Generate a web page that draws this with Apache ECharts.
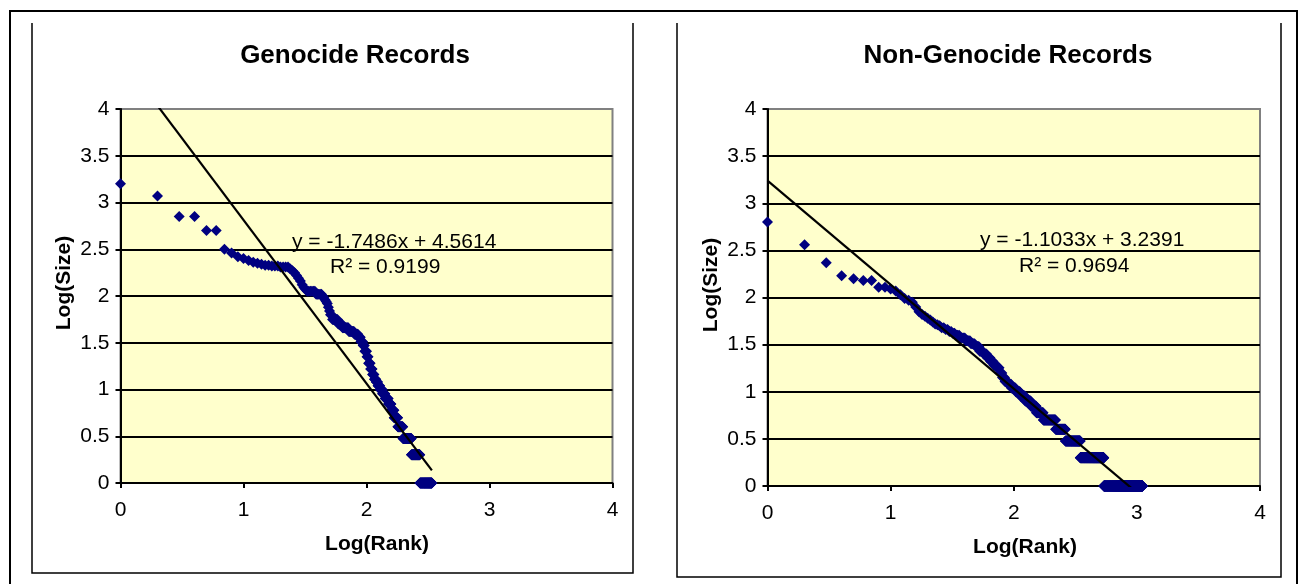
<!DOCTYPE html>
<html>
<head>
<meta charset="utf-8">
<script src="https://cdn.jsdelivr.net/npm/echarts@6/dist/echarts.min.js"></script>
<style>
html,body{margin:0;padding:0;background:#fff;}
#c{width:1298px;height:584px;}
</style>
</head>
<body>
<div id="c"></div>
<script>
// ---- Data (log10 of record size, and how many consecutive ranks share it) ----
const genocideLogSize = [3.20, 3.07, 2.85, 2.70, 2.50, 2.46, 2.42, 2.40, 2.38, 2.36, 2.35, 2.34, 2.33, 2.32, 2.31, 2.29, 2.27, 2.25, 2.22, 2.19, 2.16, 2.12, 2.09, 2.07, 2.05, 2.02, 2.00, 1.98, 1.96, 1.94, 1.92, 1.88, 1.84, 1.80, 1.75, 1.70, 1.66, 1.62, 1.59, 1.56, 1.51, 1.47, 1.41, 1.35, 1.28, 1.22, 1.16, 1.11, 1.08, 1.04, 1.00, 0.954, 0.903, 0.845, 0.778, 0.699, 0.602, 0.477, 0.301, 0];
const genocideCount   = [1, 1, 2, 2, 1, 1, 1, 1, 1, 1, 1, 1, 2, 3, 4, 1, 1, 1, 1, 1, 1, 1, 1, 1, 6, 5, 1, 1, 1, 1, 1, 1, 1, 2, 6, 5, 8, 8, 6, 4, 4, 3, 4, 3, 4, 4, 4, 4, 4, 5, 6, 7, 9, 8, 9, 12, 18, 34, 40, 69];

const nonGenocideLogSize = [2.80, 2.56, 2.37, 2.23, 2.20, 2.18, 2.11, 2.09, 2.07, 2.03, 1.99, 1.97, 1.95, 1.90, 1.85, 1.82, 1.80, 1.78, 1.76, 1.74, 1.72, 1.71, 1.70, 1.68, 1.66, 1.64, 1.62, 1.60, 1.57, 1.54, 1.51, 1.48, 1.43, 1.40, 1.36, 1.32, 1.28, 1.255, 1.20, 1.15, 1.11, 1.08, 1.04, 1.00, 0.954, 0.903, 0.845, 0.778, 0.699, 0.602, 0.477, 0.301, 0];
const nonGenocideCount   = [1, 1, 1, 1, 1, 2, 2, 1, 1, 1, 1, 1, 1, 1, 1, 1, 1, 1, 1, 1, 1, 1, 1, 2, 2, 2, 2, 3, 4, 4, 4, 4, 4, 4, 4, 4, 4, 4, 4, 4, 5, 6, 8, 9, 11, 14, 15, 21, 45, 44, 84, 192, 572];

// linear trendline: [slope, intercept, R^2]
const genocideFit    = [-1.7486, 4.5614, 0.9199];
const nonGenocideFit = [-1.1033, 3.2391, 0.9694];

const chartTitles = ['Genocide Records', 'Non-Genocide Records'];
const xAxisName = 'Log(Rank)';
const yAxisName = 'Log(Size)';

// ---- build ----
function buildPoints(levels, counts) {
  const pts = [];
  let rank = 1;
  levels.forEach((v, i) => {
    for (let k = 0; k < counts[i]; k++) { pts.push([Math.log10(rank), v]); rank++; }
  });
  return pts;
}
function trend(fit, pts) {
  const xs = pts.map(p => p[0]);
  const x0 = Math.min(...xs), x1 = Math.max(...xs);
  return [[x0, fit[1] + fit[0] * x0], [x1, fit[1] + fit[0] * x1]];
}
const gPts = buildPoints(genocideLogSize, genocideCount);
const nPts = buildPoints(nonGenocideLogSize, nonGenocideCount);

const FONT = "'Liberation Sans', Arial, sans-serif";
const fmt = (fit) => 'y = ' + fit[0].toFixed(4) + 'x + ' + fit[1].toFixed(4);

function xAxis(gi) {
  return {
    type: 'value', gridIndex: gi, min: 0, max: 4, interval: 1,
    axisLine: { show: true, onZero: false, lineStyle: { color: '#000', width: 2 } },
    axisTick: { show: true, length: 5, lineStyle: { color: '#000', width: 2 } },
    axisLabel: { fontSize: 21, color: '#000', fontFamily: FONT, margin: 17 },
    splitLine: { show: false }
  };
}
function yAxis(gi) {
  return {
    type: 'value', gridIndex: gi, min: 0, max: 4, interval: 0.5,
    axisLine: { show: true, onZero: false, lineStyle: { color: '#000', width: 2 } },
    axisTick: { show: true, length: 5, lineStyle: { color: '#000', width: 2 } },
    axisLabel: { fontSize: 21, color: '#000', fontFamily: FONT, margin: 11 },
    splitLine: { show: true, showMinLine: false, showMaxLine: false, lineStyle: { color: '#000', width: 2 } }
  };
}
const scatterStyle = { color: '#000080', opacity: 1 };

const option = {
  animation: false,
  backgroundColor: '#fff',
  grid: [
    { left: 120.5, top: 109, width: 492, height: 374, show: true, backgroundColor: '#FFFFCC', borderColor: '#808080', borderWidth: 2, containLabel: false, outerBoundsMode: 'none' },
    { left: 767.5, top: 109, width: 492.5, height: 377, show: true, backgroundColor: '#FFFFCC', borderColor: '#808080', borderWidth: 2, containLabel: false, outerBoundsMode: 'none' }
  ],
  xAxis: [xAxis(0), xAxis(1)],
  yAxis: [yAxis(0), yAxis(1)],
  series: [
    { type: 'scatter', xAxisIndex: 0, yAxisIndex: 0, data: gPts, symbol: 'diamond', symbolSize: [11, 11], itemStyle: scatterStyle, z: 3 },
    { type: 'line', xAxisIndex: 0, yAxisIndex: 0, data: trend(genocideFit, gPts), showSymbol: false, symbol: 'none', clip: true, lineStyle: { color: '#000', width: 2.2 }, z: 4 },
    { type: 'scatter', xAxisIndex: 1, yAxisIndex: 1, data: nPts, symbol: 'diamond', symbolSize: [11, 11], itemStyle: scatterStyle, z: 3 },
    { type: 'line', xAxisIndex: 1, yAxisIndex: 1, data: trend(nonGenocideFit, nPts), showSymbol: false, symbol: 'none', clip: true, lineStyle: { color: '#000', width: 2.2 }, z: 4 }
  ],
  graphic: [
    { type: 'rect', shape: { x: 10, y: 11, width: 1287, height: 600 }, style: { fill: 'none', stroke: '#000', lineWidth: 2 }, silent: true },
    { type: 'polyline', shape: { points: [[32, 23], [32, 573], [633, 573], [633, 23]] }, style: { fill: 'none', stroke: '#000', lineWidth: 1.5 }, silent: true },
    { type: 'polyline', shape: { points: [[677, 23], [677, 577], [1281, 577], [1281, 23]] }, style: { fill: 'none', stroke: '#000', lineWidth: 1.5 }, silent: true },
    { type: 'text', x: 355, y: 56, style: { text: chartTitles[0], font: "bold 26px " + FONT, fill: '#000', align: 'center', verticalAlign: 'middle' } },
    { type: 'text', x: 1008, y: 56, style: { text: chartTitles[1], font: "bold 26px " + FONT, fill: '#000', align: 'center', verticalAlign: 'middle' } },
    { type: 'text', x: 377, y: 544, style: { text: xAxisName, font: "bold 21px " + FONT, fill: '#000', align: 'center', verticalAlign: 'middle' } },
    { type: 'text', x: 1025, y: 547, style: { text: xAxisName, font: "bold 21px " + FONT, fill: '#000', align: 'center', verticalAlign: 'middle' } },
    { type: 'text', x: 64, y: 283, rotation: Math.PI / 2, style: { text: yAxisName, font: "bold 21px " + FONT, fill: '#000', align: 'center', verticalAlign: 'middle' } },
    { type: 'text', x: 711, y: 285, rotation: Math.PI / 2, style: { text: yAxisName, font: "bold 21px " + FONT, fill: '#000', align: 'center', verticalAlign: 'middle' } },
    { type: 'text', x: 292, y: 242, z: 10, style: { text: fmt(genocideFit), font: "21px " + FONT, fill: '#000', align: 'left', verticalAlign: 'middle' } },
    { type: 'text', x: 330, y: 267, z: 10, style: { text: 'R\u00B2 = ' + genocideFit[2].toFixed(4), font: "21px " + FONT, fill: '#000', align: 'left', verticalAlign: 'middle' } },
    { type: 'text', x: 980, y: 240, z: 10, style: { text: fmt(nonGenocideFit), font: "21px " + FONT, fill: '#000', align: 'left', verticalAlign: 'middle' } },
    { type: 'text', x: 1019, y: 266, z: 10, style: { text: 'R\u00B2 = ' + nonGenocideFit[2].toFixed(4), font: "21px " + FONT, fill: '#000', align: 'left', verticalAlign: 'middle' } }
  ]
};
const chart = echarts.init(document.getElementById('c'), null, { renderer: 'canvas' });
chart.setOption(option);
</script>
</body>
</html>
